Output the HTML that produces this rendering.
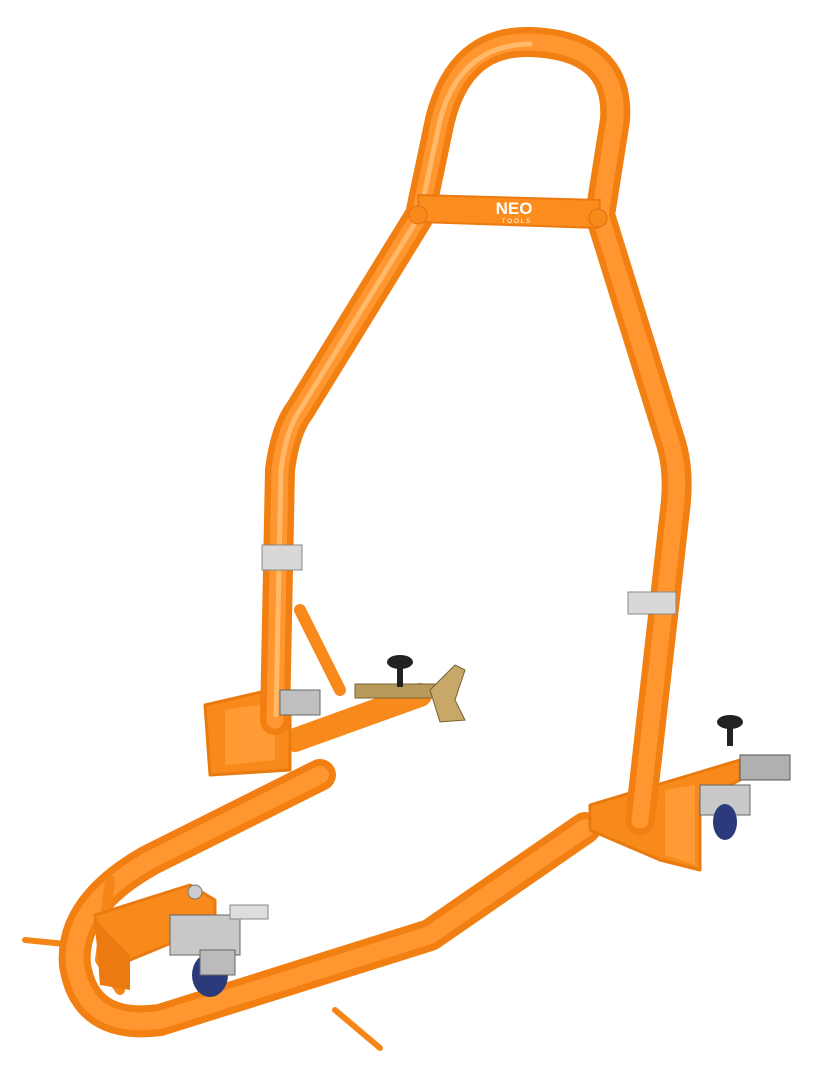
<!DOCTYPE html>
<html><head><meta charset="utf-8"><style>
html,body{margin:0;padding:0;background:#fff;}
svg{display:block}
</style></head><body>
<svg width="815" height="1080" viewBox="0 0 815 1080" xmlns="http://www.w3.org/2000/svg">
<g fill="none" stroke-linecap="round" stroke-linejoin="round">
<path d="M25 940 L75 945" stroke="#f58517" stroke-width="6"/>
<path d="M335 1010 L380 1048" stroke="#f58517" stroke-width="6"/>
<path d="M320 775 L150 860 Q70 905 75 965 Q85 1030 160 1020 L430 935 L585 828" stroke="#f27f12" stroke-width="32"/>
<path d="M320 775 L150 860 Q70 905 75 965 Q85 1030 160 1020 L430 935 L585 828" stroke="#ff9630" stroke-width="18"/>
<path d="M110 880 L100 960 L120 990" stroke="#f58517" stroke-width="10"/>
<path d="M295 740 L420 695" stroke="#f88a1c" stroke-width="24"/>
<path d="M300 610 L340 690" stroke="#f88a1c" stroke-width="12"/>
<path d="M205 705 L270 690 L290 700 L290 770 L210 775 Z" fill="#f88a1c" stroke="#e87a10" stroke-width="3"/>
<path d="M225 710 L275 702 L275 760 L225 765 Z" fill="#ff9a34" stroke="none"/>
<path d="M95 915 L190 885 L215 900 L215 925 L130 960 L100 960 Z" fill="#f88a1c" stroke="#e87a10" stroke-width="3"/>
<path d="M95 920 L130 955 L130 990 L100 985 Z" fill="#ec7a10"/>
<path d="M590 805 L690 775 L740 760 L740 780 L700 800 L700 870 L660 860 L590 830 Z" fill="#f88a1c" stroke="#e87a10" stroke-width="3"/>
<path d="M665 790 L695 785 L695 865 L665 855 Z" fill="#ff9a34"/>
<path d="M660 715 L650 780" stroke="#f88a1c" stroke-width="10"/>
<path d="M275 720 L280 470 Q285 430 300 410 L420 215 L440 120 Q460 40 530 42 Q620 45 615 120 L600 215 L670 440 Q680 470 675 510 L640 820" stroke="#f27f12" stroke-width="30"/>
<path d="M275 720 L280 470 Q285 430 300 410 L420 215 L440 120 Q460 40 530 42 Q620 45 615 120 L600 215 L670 440 Q680 470 675 510 L640 820" stroke="#ff9630" stroke-width="17"/>
<path d="M276 715 L281 470 Q286 430 300 410 L420 215 L440 120 Q460 45 530 44" stroke="#ffb968" stroke-width="5"/>
</g>
<path d="M418 195 L600 200 L598 228 L420 222 Z" fill="#fb8c1e" stroke="#ec7a10" stroke-width="2"/>
<circle cx="418" cy="215" r="9" fill="#f88a1c" stroke="#e07010"/>
<circle cx="598" cy="218" r="9" fill="#f88a1c" stroke="#e07010"/>
<text x="514" y="214" font-family="Liberation Sans, sans-serif" font-weight="bold" font-size="17" fill="#fff" text-anchor="middle">NEO</text>
<text x="517" y="223" font-family="Liberation Sans, sans-serif" font-size="6" fill="#fff" text-anchor="middle" letter-spacing="2">TOOLS</text>
<rect x="262" y="545" width="40" height="25" fill="#d8d8d8" stroke="#888"/>
<rect x="628" y="592" width="48" height="22" fill="#d8d8d8" stroke="#888"/>
<rect x="355" y="684" width="80" height="14" fill="#b89a5a" stroke="#7a6230"/>
<path d="M430 690 L455 665 L465 670 L455 700 L465 720 L440 722 Z" fill="#c8a868" stroke="#7a6230"/>
<rect x="397" y="665" width="6" height="22" fill="#222"/>
<ellipse cx="400" cy="662" rx="13" ry="7" fill="#222"/>
<rect x="280" y="690" width="40" height="25" fill="#c0c0c0" stroke="#666"/>
<rect x="740" y="755" width="50" height="25" fill="#b0b0b0" stroke="#555"/>
<ellipse cx="730" cy="722" rx="13" ry="7" fill="#222"/>
<rect x="727" y="724" width="6" height="22" fill="#222"/>
<rect x="700" y="785" width="50" height="30" fill="#c8c8c8" stroke="#666"/>
<ellipse cx="725" cy="822" rx="12" ry="18" fill="#2a3a7a"/>
<rect x="170" y="915" width="70" height="40" fill="#c8c8c8" stroke="#666"/>
<rect x="230" y="905" width="38" height="14" fill="#ddd" stroke="#888"/>
<ellipse cx="210" cy="975" rx="18" ry="22" fill="#2a3a7a"/>
<rect x="200" y="950" width="35" height="25" fill="#bbb" stroke="#666"/>
<circle cx="195" cy="892" r="7" fill="#ccc" stroke="#777"/>
</svg>
</body></html>
